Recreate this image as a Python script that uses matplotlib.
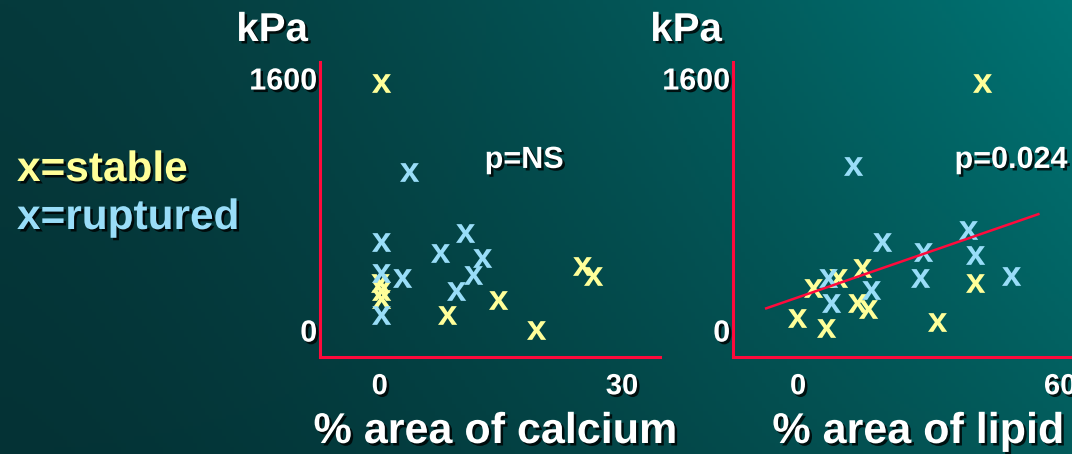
import matplotlib
matplotlib.use("Agg")
import matplotlib.pyplot as plt
import matplotlib.patheffects as pe
import numpy as np
from matplotlib.font_manager import FontProperties
from matplotlib.path import Path
from matplotlib.textpath import TextPath

# calcium panel: % area vs stress (kPa)
ca_stable_x = [0.1, 0.0, 0.2, 0.1, 8.3, 14.6, 19.3, 25.0, 26.4]
ca_stable_y = [1566, 300, 250, 200, 95, 190, 0, 406, 343]
ca_rupt_x = [3.6, 0.1, 0.1, 0.1, 2.8, 7.4, 10.5, 12.6, 11.6, 9.4]
ca_rupt_y = [1005, 561, 360, 95, 328, 487, 614, 455, 349, 250]

# lipid panel
lp_stable_x = [42.0, -0.15, 6.4, 3.4, 9.2, 14.6, 13.4, 16.1, 31.7, 40.5]
lp_stable_y = [1566, 74, 11, 265, 328, 392, 170, 131, 53, 300]
lp_rupt_x = [12.5, 19.2, 6.9, 7.5, 16.6, 28.7, 27.9, 39.0, 40.5, 48.7]
lp_rupt_y = [1041, 561, 328, 170, 254, 497, 328, 635, 476, 343]

# regression line for lipid panel
fit_slope = 9.6
fit_intercept = 208
fit_range = [-7.3, 55.0]

ca_xticks = [0, 30]
lp_xticks = [0, 60]
yticks = [0, 1600]

W, H = 1072, 454
YELLOW = "#ffff99"
BLUE = "#99ddf8"
RED = "#ff0a3c"
FONT = ["Liberation Sans", "DejaVu Sans"]
NARROW = ["Liberation Sans Narrow", "Liberation Sans", "DejaVu Sans"]

shadow = [pe.withSimplePatchShadow(offset=(1.8, -1.8), shadow_rgbFace="black", alpha=0.8)]

fig = plt.figure(figsize=(W / 100, H / 100), dpi=100)

# background gradient, dark teal on the left to lighter teal at top right
bg = fig.add_axes([0, 0, 1, 1])
gx = np.linspace(0, 1, 256)[None, :]
gy = np.linspace(0, 1, 128)[:, None]
tl = np.array([6, 58, 60]) / 255
bl = np.array([4, 50, 53]) / 255
tr = np.array([0, 116, 116]) / 255
br = np.array([3, 92, 92]) / 255
wx = gx ** 1.4
top = tl * (1 - wx[..., None]) + tr * wx[..., None]
bot = bl * (1 - wx[..., None]) + br * wx[..., None]
img = top * (1 - gy[..., None]) + bot * gy[..., None]
bg.imshow(img, aspect="auto", extent=[0, 1, 0, 1], origin="upper")
bg.set_axis_off()

# "x" glyph used as the marker
tp = TextPath((0, 0), "x", prop=FontProperties(family="Liberation Sans", weight="bold"))
v = tp.vertices.copy()
v -= (v.min(axis=0) + v.max(axis=0)) / 2
xmark = Path(v, tp.codes)


def px_axes(x0, x1, y0, y1):
    return fig.add_axes([x0 / W, (H - y1) / H, (x1 - x0) / W, (y1 - y0) / H])


def style(ax, xlim, xticks):
    ax.set_facecolor("none")
    ax.set_xlim(*xlim)
    ax.set_ylim(-171, 1702)
    for s in ["top", "right"]:
        ax.spines[s].set_visible(False)
    for s in ["left", "bottom"]:
        ax.spines[s].set_color(RED)
        ax.spines[s].set_linewidth(2.2)
    ax.set_xticks(xticks)
    ax.set_yticks(yticks)
    ax.tick_params(length=0)
    ax.tick_params(axis="x", pad=11)
    ax.tick_params(axis="y", pad=2)
    for lab in ax.get_xticklabels():
        lab.set_fontfamily(NARROW)
        lab.set_fontweight("bold")
        lab.set_fontsize(21)
        lab.set_color("white")
        lab.set_path_effects(shadow)
    for lab in ax.get_yticklabels():
        lab.set_fontfamily(FONT)
        lab.set_fontweight("bold")
        lab.set_fontsize(22)
        lab.set_color("white")
        lab.set_path_effects(shadow)


def marks(ax, x, y, color):
    ax.plot(x, y, linestyle="none", marker=xmark, markersize=14,
            color=color, markeredgewidth=0, clip_on=False)


ax1 = px_axes(320, 660, 62, 357)
style(ax1, (-7.4, 34.7), ca_xticks)
marks(ax1, ca_stable_x, ca_stable_y, YELLOW)
marks(ax1, ca_rupt_x, ca_rupt_y, BLUE)

ax2 = px_axes(733, 1072, 62, 357)
style(ax2, (-14.9, 62.7), lp_xticks)
marks(ax2, lp_stable_x, lp_stable_y, YELLOW)
marks(ax2, lp_rupt_x, lp_rupt_y, BLUE)
fx = np.array(fit_range)
ax2.plot(fx, fit_intercept + fit_slope * fx, color=RED, lw=1.8)

txt = dict(fontfamily=FONT, fontweight="bold", color="white", path_effects=shadow)
ax1.text(0.60, 0.668, "p=NS", transform=ax1.transAxes, ha="center", va="center",
         fontsize=22, **txt)
ax2.text(0.82, 0.668, "p=0.024", transform=ax2.transAxes, ha="center", va="center",
         fontsize=22, **txt)

fig.text(272 / W, 1 - 30 / H, "kPa", ha="center", va="center", fontsize=29, **txt)
fig.text(686 / W, 1 - 30 / H, "kPa", ha="center", va="center", fontsize=29, **txt)
fig.text(495 / W, 1 - 432 / H, "% area of calcium", ha="center", va="center",
         fontsize=31, **txt)
fig.text(918 / W, 1 - 432 / H, "% area of lipid", ha="center", va="center",
         fontsize=31, **txt)

leg = dict(fontfamily=FONT, fontweight="bold", path_effects=shadow,
           ha="left", va="center", fontsize=30.5)
fig.text(17 / W, 1 - 170 / H, "x=stable", color=YELLOW, **leg)
fig.text(17 / W, 1 - 218 / H, "x=ruptured", color=BLUE, **leg)

fig.savefig("out.png", dpi=100)
